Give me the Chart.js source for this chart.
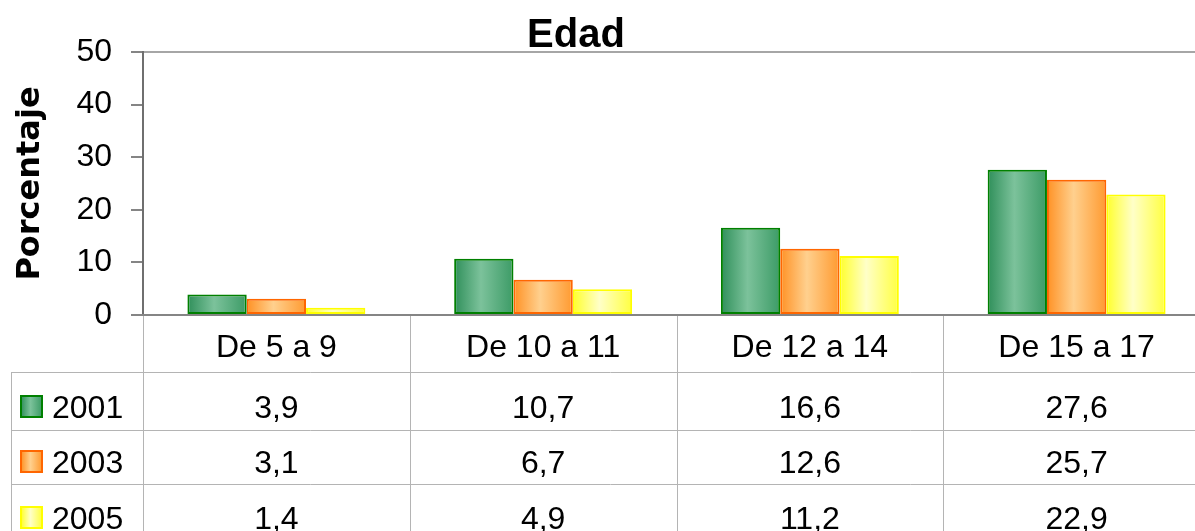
<!DOCTYPE html>
<html>
<head>
<meta charset="utf-8">
<script src="https://cdn.jsdelivr.net/npm/chart.js@4"></script>
<style>
    html, body { margin: 0; padding: 0; background: #fff; overflow: hidden; }
    #wrap { position: relative; width: 1210px; height: 545px; }
</style>
</head>
<body>
<div id="wrap"><canvas id="edadChart"></canvas></div>
<script>
// Data
const categories = ['De 5 a 9', 'De 10 a 11', 'De 12 a 14', 'De 15 a 17'];
const years = ['2001', '2003', '2005'];
const values2001 = [3.9, 10.7, 16.6, 27.6];
const values2003 = [3.1, 6.7, 12.6, 25.7];
const values2005 = [1.4, 4.9, 11.2, 22.9];
const yMin = 0, yMax = 50, yStep = 10;

// Colours per series: border, gradient left edge / centre / right edge
const seriesStyle = [
    { border: '#008000', stops: ['#2f8f5a', '#7cc29b', '#3c9b66'] },
    { border: '#ff6600', stops: ['#ff9124', '#ffd08e', '#ff9a30'] },
    { border: '#ffff00', stops: ['#ffff2a', '#ffffc8', '#ffff40'] }
];

const bodyFont = '"Liberation Sans", Arial, sans-serif';

function fmt(v) {
    return v.toFixed(1).replace('.', ',');
}

function barGradient(ctx, left, right, stops) {
    const g = ctx.createLinearGradient(left, 0, right, 0);
    g.addColorStop(0, stops[0]);
    g.addColorStop(0.45, stops[1]);
    g.addColorStop(1, stops[2]);
    return g;
}

// Fill each bar with a horizontal gradient like the original
const gradientBars = {
    id: 'gradientBars',
    beforeDatasetsDraw(chart) {
        const ctx = chart.ctx;
        chart.data.datasets.forEach(function(ds, i) {
            const meta = chart.getDatasetMeta(i);
            meta.data.forEach(function(bar) {
                bar.options.backgroundColor = barGradient(ctx, bar.x - bar.width / 2, bar.x + bar.width / 2, seriesStyle[i].stops);
            });
        });
    }
};

// Title, x axis line and the data table under the plot
const dataTable = {
    id: 'dataTable',
    afterDraw(chart) {
        const ctx = chart.ctx;
        const area = chart.chartArea;
        const xs = chart.scales.x;
        const catW = (area.right - area.left) / categories.length;
        const bottom = chart.height;
        const rowLines = [372, 430, 484];
        const baselines = [418, 473, 529];

        ctx.save();

        // title
        ctx.fillStyle = '#000';
        ctx.font = 'bold 40px ' + bodyFont;
        ctx.textAlign = 'center';
        ctx.textBaseline = 'alphabetic';
        ctx.fillText('Edad', 576, 47);

        // table grid
        ctx.strokeStyle = '#b4b4b4';
        ctx.lineWidth = 1;
        for (let i = 0; i < categories.length; i++) {
            const x = Math.round(area.left + i * catW) + 0.5;
            ctx.beginPath();
            ctx.moveTo(x, area.bottom);
            ctx.lineTo(x, bottom);
            ctx.stroke();
        }
        ctx.beginPath();
        ctx.moveTo(11.5, rowLines[0]);
        ctx.lineTo(11.5, bottom);
        ctx.stroke();
        rowLines.forEach(function(y) {
            ctx.beginPath();
            ctx.moveTo(11, y + 0.5);
            ctx.lineTo(area.right, y + 0.5);
            ctx.stroke();
        });

        // x axis line
        ctx.strokeStyle = '#858585';
        ctx.lineWidth = 2;
        ctx.beginPath();
        ctx.moveTo(area.left - 12, area.bottom);
        ctx.lineTo(area.right, area.bottom);
        ctx.stroke();

        // header labels
        ctx.fillStyle = '#000';
        ctx.font = '32px ' + bodyFont;
        ctx.textAlign = 'center';
        categories.forEach(function(c, i) {
            ctx.fillText(c, xs.getPixelForValue(i), 357);
        });

        // rows
        const rows = [values2001, values2003, values2005];
        rows.forEach(function(vals, r) {
            const base = baselines[r];
            // legend key
            const st = seriesStyle[r];
            ctx.fillStyle = barGradient(ctx, 21, 42, st.stops);
            ctx.fillRect(21, base - 22, 21, 21);
            ctx.strokeStyle = st.border;
            ctx.lineWidth = 2;
            ctx.strokeRect(21, base - 22, 21, 21);

            ctx.fillStyle = '#000';
            ctx.textAlign = 'left';
            ctx.fillText(years[r], 52, base);
            ctx.textAlign = 'center';
            vals.forEach(function(v, i) {
                ctx.fillText(fmt(v), xs.getPixelForValue(i), base);
            });
        });

        ctx.restore();
    }
};

const chartCtx = document.getElementById('edadChart').getContext('2d');
const edadChart = new Chart(chartCtx, {
    type: 'bar',
    data: {
        labels: categories,
        datasets: [values2001, values2003, values2005].map(function(vals, i) {
            return {
                label: years[i],
                data: vals,
                // scriptable so every bar gets its own options object
                backgroundColor: function(c) {
                    return seriesStyle[c.datasetIndex].stops[1];
                },
                borderColor: seriesStyle[i].border,
                borderWidth: 2,
                borderSkipped: false,
                categoryPercentage: 0.667,
                barPercentage: 1
            };
        })
    },
    options: {
        responsive: true,
        maintainAspectRatio: false,
        animation: false,
        layout: {
            padding: { top: 52, bottom: 230, left: 0, right: 0 }
        },
        plugins: {
            legend: { display: false },
            tooltip: { enabled: false }
        },
        scales: {
            x: {
                display: false
            },
            y: {
                min: yMin,
                max: yMax,
                afterFit: function(scale) {
                    scale.width = 143;
                },
                ticks: {
                    stepSize: yStep,
                    color: '#000',
                    padding: 19,
                    font: { family: bodyFont, size: 32 }
                },
                grid: {
                    color: function(c) {
                        return c.tick && c.tick.value === yMax ? '#a6a6a6' : 'rgba(0,0,0,0)';
                    },
                    lineWidth: 2,
                    tickLength: 12,
                    tickColor: '#858585',
                    tickWidth: 2
                },
                border: {
                    display: true,
                    color: '#6f6f6f',
                    width: 2
                },
                title: {
                    display: true,
                    text: 'Porcentaje',
                    color: '#000',
                    padding: { top: 11, bottom: 0 },
                    font: { family: '"DejaVu Sans", sans-serif', size: 32, weight: 'bold' }
                }
            }
        }
    },
    plugins: [gradientBars, dataTable]
});
</script>
</body>
</html>
